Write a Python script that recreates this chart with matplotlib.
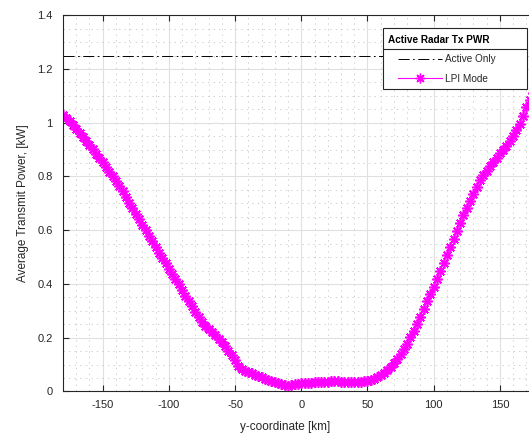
import numpy as np
import matplotlib
matplotlib.use('Agg')
import matplotlib.pyplot as plt
from matplotlib.lines import Line2D
from matplotlib.patches import Rectangle

plt.rcParams['font.family'] = ['Liberation Sans', 'DejaVu Sans']
plt.rcParams['axes.unicode_minus'] = False
plt.rcParams['lines.scale_dashes'] = False

# y-coordinate [km] and LPI mode power [kW]
y_km = np.arange(-180, 180.1, 2.5)
lpi_kw = [1.030, 1.018, 1.005, 0.992, 0.978, 0.963, 0.948, 0.933, 0.917, 0.901,
          0.885, 0.869, 0.852, 0.835, 0.818, 0.801, 0.783, 0.764, 0.745, 0.724,
          0.703, 0.683, 0.662, 0.642, 0.621, 0.600, 0.578, 0.558, 0.537, 0.517,
          0.497, 0.477, 0.457, 0.437, 0.417, 0.398, 0.378, 0.357, 0.337, 0.317,
          0.297, 0.277, 0.258, 0.244, 0.232, 0.221, 0.210, 0.197, 0.183, 0.168,
          0.152, 0.135, 0.118, 0.095, 0.083, 0.077, 0.072, 0.067, 0.062, 0.057,
          0.052, 0.047, 0.042, 0.038, 0.034, 0.030, 0.026, 0.023, 0.022, 0.025,
          0.027, 0.029, 0.030, 0.031, 0.032, 0.033, 0.034, 0.035, 0.036, 0.037,
          0.037, 0.038, 0.038, 0.038, 0.037, 0.037, 0.036, 0.036, 0.036, 0.036,
          0.037, 0.038, 0.040, 0.043, 0.048, 0.054, 0.062, 0.070, 0.080, 0.092,
          0.105, 0.121, 0.138, 0.157, 0.178, 0.201, 0.225, 0.251, 0.278, 0.306,
          0.335, 0.362, 0.390, 0.419, 0.448, 0.478, 0.507, 0.537, 0.567, 0.597,
          0.627, 0.655, 0.682, 0.709, 0.735, 0.762, 0.788, 0.805, 0.821, 0.838,
          0.854, 0.870, 0.886, 0.900, 0.914, 0.933, 0.952, 0.973, 0.995, 1.026,
          1.057, 1.084, 1.110, 1.135, 1.160]
active_kw = 1.25

xticks = [-150, -100, -50, 0, 50, 100, 150]
yticks = [0, 0.2, 0.4, 0.6, 0.8, 1.0, 1.2, 1.4]
ytick_labels = ['0', '0.2', '0.4', '0.6', '0.8', '1', '1.2', '1.4']
legend_title = 'Active Radar Tx PWR'
legend_labels = ['Active Only', 'LPI Mode']

dashdot = (0, (8, 2.5, 1.2, 2.5))
ast = (8, 2, 0)
txt = '#262626'

fig = plt.figure(figsize=(5.29, 4.34), dpi=100)
ax = fig.add_axes([0.119, 0.098, 1.020 - 0.119, 0.965 - 0.098])

ax.axhline(active_kw, color='black', linestyle=dashdot, linewidth=0.7)
ax.plot(y_km, lpi_kw, color='magenta', marker=ast, markersize=7.5,
        markeredgewidth=1.2, linewidth=0.6)

ax.set_xlim(-180, 180)
ax.set_ylim(0, 1.4)
ax.set_xticks(xticks)
ax.set_yticks(yticks)
ax.set_yticklabels(ytick_labels)
ax.set_xticks(np.arange(-180, 181, 10), minor=True)
ax.set_yticks(np.arange(0, 1.41, 0.05), minor=True)
ax.tick_params(which='both', direction='in', top=True, right=True,
               labelsize=8, colors=txt)
ax.tick_params(which='minor', length=0)
ax.tick_params(which='major', length=4)
ax.tick_params(axis='x', pad=6)
ax.tick_params(axis='y', pad=7.5)
ax.grid(which='major', color='#e0e0e0', linewidth=0.8)
ax.grid(which='minor', color='#c8c8c8', linestyle=(0, (1, 3)), linewidth=0.6)
ax.set_axisbelow(True)
for s in ax.spines.values():
    s.set_color(txt)
    s.set_linewidth(0.8)

ax.set_xlabel('y-coordinate [km]', fontsize=8.5, color=txt)
ax.xaxis.set_label_coords(0.466, -0.079)
ax.set_ylabel('Average Transmit Power, [kW]', fontsize=8.5, color=txt, labelpad=6)

# legend box drawn like the MATLAB one (title with a separator line)
W, H = 529, 434
fx = lambda px: px / W
fy = lambda py: 1 - py / H
fig.add_artist(Rectangle((fx(383), fy(89.3)), fx(527) - fx(383), fy(28.3) - fy(89.3),
                         transform=fig.transFigure, facecolor='white',
                         edgecolor=txt, linewidth=0.8, zorder=10))
fig.add_artist(Line2D([fx(383), fx(527)], [fy(49.3), fy(49.3)], color=txt,
                      linewidth=0.8, transform=fig.transFigure, zorder=11))
fig.text(fx(387.5), fy(39), legend_title, fontsize=7.2, fontweight='bold',
         color='black', ha='left', va='center_baseline', zorder=12)
fig.add_artist(Line2D([fx(398), fx(441.5)], [fy(58.5), fy(58.5)], color='black',
                      linestyle=dashdot, linewidth=0.7,
                      transform=fig.transFigure, zorder=11))
fig.add_artist(Line2D([fx(398), fx(441.5)], [fy(77.5), fy(77.5)], color='magenta',
                      linewidth=0.8, transform=fig.transFigure, zorder=11))
fig.add_artist(Line2D([fx(420)], [fy(77.5)], color='magenta', marker=ast,
                      markersize=7, markeredgewidth=1.0, linestyle='none',
                      transform=fig.transFigure, zorder=11))
for lab, py in zip(legend_labels, [58.5, 77.5]):
    fig.text(fx(445), fy(py), lab, fontsize=7.2, color=txt, ha='left',
             va='center_baseline', zorder=12)

plt.savefig('out.png', dpi=100)
plt.close('all')
